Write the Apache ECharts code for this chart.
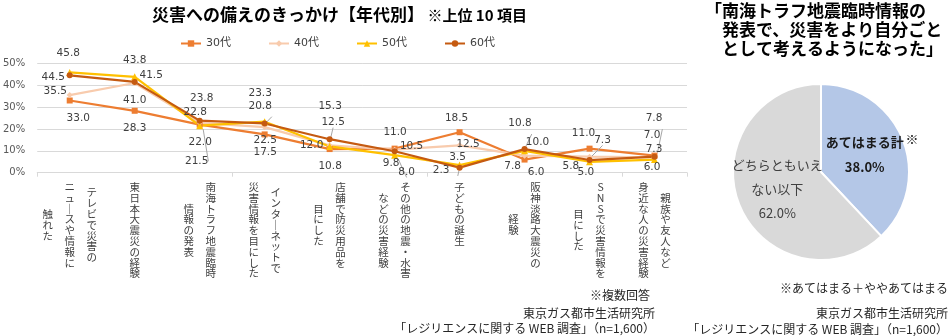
<!DOCTYPE html>
<html><head><meta charset="utf-8">
<script src="https://cdn.jsdelivr.net/npm/echarts@6/dist/echarts.min.js"></script>
<style>html,body{margin:0;padding:0;background:#fff}#c{width:950px;height:336px}</style>
</head><body><div id="c"></div>
<script>
// ---- data ----
const categories = [
  'テレビで災害の\nニュースや情報に\n触れた',
  '東日本大震災の経験',
  '南海トラフ地震臨時\n情報の発表',
  'インターネットで\n災害情報を目にした',
  '店舗で防災用品を\n目にした',
  'その他の地震・水害\nなどの災害経験',
  '子どもの誕生',
  '阪神淡路大震災の\n経験',
  'SNSで災害情報を\n目にした',
  '親族や友人など\n身近な人の災害経験'
];
const seriesNames = ['30代', '40代', '50代', '60代'];
const values30 = [33.0, 28.3, 22.0, 17.5, 10.8, 11.0, 18.5, 6.0, 11.0, 7.8];
const values40 = [35.5, 41.0, 22.8, 20.8, 12.5, 10.5, 12.5, 7.8, 7.3, 7.0];
const values50 = [45.8, 43.8, 21.5, 23.3, 12.0, 8.0, 3.5, 10.0, 5.0, 6.0];
const values60 = [44.5, 41.5, 23.8, 22.5, 15.3, 9.8, 2.3, 10.8, 5.8, 7.3];
const yTicks = [0, 10, 20, 30, 40, 50];
const pieNames = ['あてはまる計', 'どちらともいえない以下'];
const pieValues = [38.0, 62.0];

// ---- layout / style ----
const CJK = '"Noto Sans CJK JP", sans-serif';
const NUM = '"DejaVu Sans", "Noto Sans CJK JP", sans-serif';
const labelOffsets = [
  [[8.5,18],[0,17.5],[0.5,17.4],[0.5,17.5],[0.5,17],[0.5,-16.7],[-3,-13.7],[11.5,12.3],[-6,-15.7],[-0.5,-37]],
  [[-14.5,-4],[0,17],[-4.5,-11],[-4.5,-21],[3.5,-23],[17,-3],[8.5,-1],[-12,10.3],[13,-16.5],[-2.5,-22]],
  [[-1.5,-19],[0,-17],[-3,35.6],[-4.5,-28.8],[-18,-1.2],[12,17],[-2,-7.5],[13,-9],[-3.7,10.7],[-2.5,7.3]],
  [[-16.5,2],[16.5,-6.6],[2,-22.7],[0.5,17],[0.5,-33.3],[-3.5,12],[-18.5,3],[-4.5,-25.5],[-18.7,6],[-0.5,-7]]
];
// labels that have a leader line in the reference: [series, category]
const leaderLines = [[2,2],[1,3],[1,4],[2,5],[3,6],[3,7],[1,8],[0,9]];
const colors = ['#ED7D31', '#F8CBAD', '#FFC000', '#C55A11'];
const symbols = ['rect', 'diamond', 'triangle', 'circle'];
const symbolSizes = [6, 6, 7, 6];
const allValues = [values30, values40, values50, values60];

// vertical Japanese axis labels: one x axis per text column
const LH = 10.8, COLW = 22;
const labelStrs = [[], [], []];
const rich = {};
categories.forEach((cat, i) => {
  const cols = cat.split('\n');
  const n = cols.length;
  const maxLen = Math.max(...cols.map(c => Array.from(c).length));
  for (let j = 0; j < 3; j++) {
    if (j >= n) { labelStrs[j][i] = ''; continue; }
    const chars = Array.from(cols[j]).map(ch => ch === 'ー' ? '｜' : ch);
    const dx = ((n - 1) / 2 - j) * COLW;
    const hk = 'h' + String(Math.round(dx * 2)).replace('-', 'm');
    if (!rich[hk]) rich[hk] = {
      fontSize: 10.5, lineHeight: LH, fontFamily: CJK, color: '#404040',
      padding: dx >= 0 ? [0, 0, 0, 2 * dx] : [0, -2 * dx, 0, 0]
    };
    const t = maxLen - chars.length;
    let s = '';
    if (t > 0) {
      const gk = 'g' + t;
      if (!rich[gk]) rich[gk] = { fontSize: 1, lineHeight: t * LH / 2 };
      s += '{' + gk + '| }\n';
    }
    s += '{' + hk + '|' + chars.join('\n') + '}';
    labelStrs[j][i] = s;
  }
});

const xAxes = [{
  type: 'category', data: categories, gridIndex: 0, position: 'bottom', boundaryGap: true,
  axisLine: { lineStyle: { color: '#D9D9D9', width: 1 } },
  axisTick: { show: true, length: 4, lineStyle: { color: '#D9D9D9' } },
  axisLabel: { show: false }, splitLine: { show: false }
}];
for (let j = 0; j < 3; j++) {
  xAxes.push({
    type: 'category', data: categories, gridIndex: 0, position: 'bottom', offset: 0,
    axisLine: { show: false }, axisTick: { show: false }, splitLine: { show: false },
    axisLabel: {
      interval: 0, margin: 9, color: '#404040', fontFamily: CJK, fontSize: 10.5,
      formatter: (v, idx) => labelStrs[j][idx], rich: rich
    }
  });
}

const hasLeader = (s, k) => leaderLines.some(p => p[0] === s && p[1] === k);
const lineSeries = seriesNames.map((name, s) => ({
  name, type: 'line', xAxisIndex: 0, yAxisIndex: 0,
  data: allValues[s].map((v, k) => ({
    value: v,
    label: { offset: labelOffsets[s][k] },
    labelLine: { show: hasLeader(s, k) }
  })),
  symbol: symbols[s], symbolSize: symbolSizes[s], showSymbol: true,
  lineStyle: { color: colors[s], width: 2.25 },
  itemStyle: { color: colors[s] },
  label: {
    show: true, position: 'inside', formatter: p => Number(p.value).toFixed(1),
    fontSize: 10.5, fontFamily: NUM, color: '#404040'
  },
  labelLine: { show: false, lineStyle: { color: '#A6A6A6', width: 1 } },
  emphasis: { disabled: true }, silent: true
}));

const chart = echarts.init(document.getElementById('c'), null, { renderer: 'canvas' });
chart.setOption({
  animation: false,
  backgroundColor: '#ffffff',
  title: [
    {
      left: 152, top: 3, padding: 0,
      text: '{b|災害への備えのきっかけ【年代別】}{n| ※上位 10 項目}',
      textStyle: { rich: {
        b: { fontSize: 17, fontWeight: 'bold', fontFamily: CJK, color: '#000', lineHeight: 24 },
        n: { fontSize: 15, fontFamily: CJK, color: '#000', lineHeight: 24 }
      } }
    },
    {
      left: 705, top: 1, padding: 0,
      text: '「南海トラフ地震臨時情報の\n　発表で、災害をより自分ごと\n　として考えるようになった」',
      textStyle: { fontSize: 17, fontWeight: 'bold', fontFamily: CJK, color: '#000', lineHeight: 19 }
    }
  ],
  legend: {
    left: 180, top: 38, itemWidth: 20, itemHeight: 8, itemGap: 37, padding: 0,
    data: seriesNames,
    textStyle: { fontSize: 11, color: '#404040', fontFamily: NUM }
  },
  grid: { left: 37, right: 263, top: 63.3, bottom: 163.3, containLabel: false },
  xAxis: xAxes,
  yAxis: {
    type: 'value', min: yTicks[0], max: yTicks[yTicks.length - 1], interval: yTicks[1] - yTicks[0],
    axisLine: { show: false }, axisTick: { show: false },
    axisLabel: { formatter: '{value}%', fontSize: 10, color: '#595959', fontFamily: NUM, margin: 12 },
    splitLine: { lineStyle: { color: '#D9D9D9', width: 1 } }
  },
  series: lineSeries.concat([{
    type: 'pie', center: [821, 172], radius: 88, startAngle: 90, clockwise: true,
    silent: true, emphasis: { disabled: true },
    data: pieNames.map((n, i) => ({ name: n, value: pieValues[i] })),
    color: ['#B4C7E7', '#D9D9D9'],
    itemStyle: { borderColor: '#ffffff', borderWidth: 2 },
    labelLine: { show: false },
    label: {
      position: 'inside',
      formatter: p => p.dataIndex === 0
        ? '{b|' + p.name + '}\n{b|' + p.value.toFixed(1) + '%}'
        : '{n|' + p.name.slice(0, 7) + '}\n{n|' + p.name.slice(7) + '}\n{n|' + p.value.toFixed(1) + '%}',
      rich: {
        b: { fontSize: 13, fontWeight: 'bold', fontFamily: CJK, color: '#1a1a1a', lineHeight: 25 },
        n: { fontSize: 13, fontFamily: CJK, color: '#404040', lineHeight: 24 }
      }
    }
  }]),
  graphic: [
    { type: 'text', silent: true, style: { text: '※', x: 912, y: 139, align: 'center', verticalAlign: 'middle', fontSize: 13, fontFamily: CJK, fill: '#262626' } },
    { type: 'text', silent: true, style: { text: '※複数回答', x: 650, y: 295, align: 'right', verticalAlign: 'middle', fontSize: 12, fontFamily: CJK, fill: '#262626' } },
    { type: 'text', silent: true, style: { text: '東京ガス都市生活研究所', x: 655, y: 313, align: 'right', verticalAlign: 'middle', fontSize: 12, fontFamily: CJK, fill: '#262626' } },
    { type: 'text', silent: true, style: { text: '「レジリエンスに関する WEB 調査」（n=1,600）', x: 655, y: 328, align: 'right', verticalAlign: 'middle', fontSize: 12, fontFamily: CJK, fill: '#262626' } },
    { type: 'text', silent: true, style: { text: '※あてはまる＋ややあてはまる', x: 948, y: 288, align: 'right', verticalAlign: 'middle', fontSize: 12, fontFamily: CJK, fill: '#262626' } },
    { type: 'text', silent: true, style: { text: '東京ガス都市生活研究所', x: 948, y: 313, align: 'right', verticalAlign: 'middle', fontSize: 12, fontFamily: CJK, fill: '#262626' } },
    { type: 'text', silent: true, style: { text: '「レジリエンスに関する WEB 調査」（n=1,600）', x: 948, y: 329, align: 'right', verticalAlign: 'middle', fontSize: 12, fontFamily: CJK, fill: '#262626' } }
  ]
});
</script>
</body></html>
